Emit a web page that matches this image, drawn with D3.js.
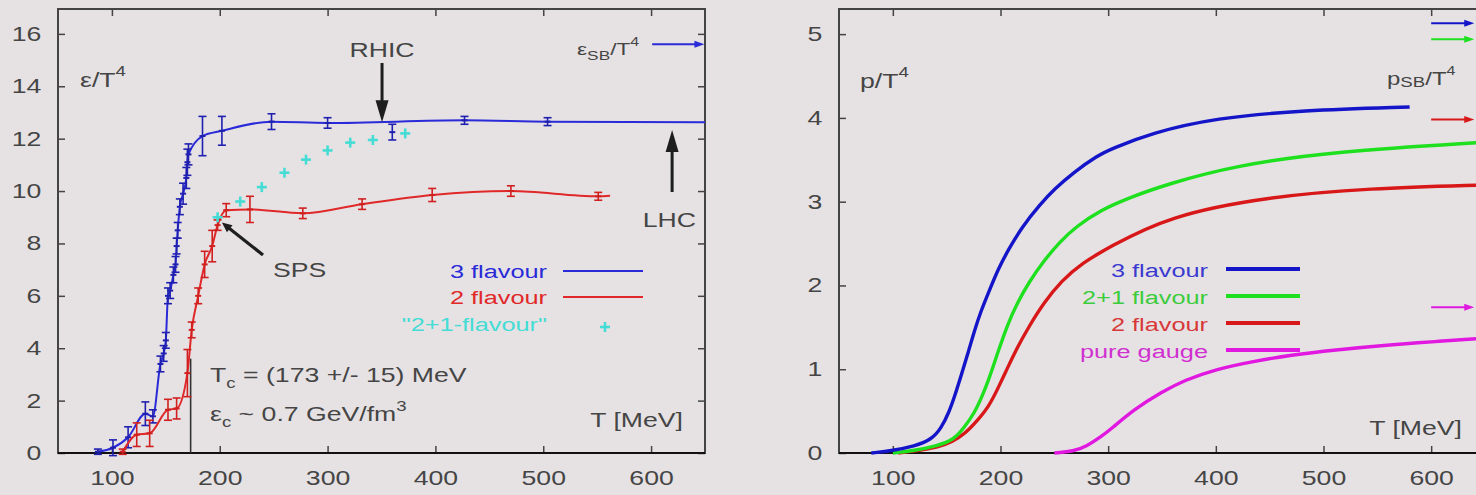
<!DOCTYPE html>
<html>
<head>
<meta charset="utf-8">
<script src="https://cdn.jsdelivr.net/npm/d3@7"></script>
<style>
  body { margin: 0; background: #e6e2e4; }
  svg { display: block; }
  text { font-family: "Liberation Sans", Arial, sans-serif; fill: #454545; }
</style>
</head>
<body>
<script>
// ---------------- data ----------------
// left panel: energy density eps/T^4 vs T [MeV]
var blueT   = [87, 101, 115, 131, 138, 145, 148, 150, 152, 154, 157, 159, 160, 161, 163, 166, 169, 170, 171, 184, 202, 248, 300, 427, 504];
var blueV   = [0.05, 0.2, 0.6, 1.5, 1.4, 3.4, 3.8, 4.3, 6.0, 6.2, 6.8, 7.2, 7.9, 8.5, 9.4, 9.9, 10.5, 11.1, 11.4, 12.1, 12.3, 12.65, 12.6, 12.7, 12.65];
var blueErr = [0.1, 0.3, 0.4, 0.45, 0.25, 0.3, 0.3, 0.3, 0.3, 0.3, 0.3, 0.3, 0.3, 0.3, 0.3, 0.4, 0.4, 0.5, 0.4, 0.75, 0.55, 0.3, 0.2, 0.15, 0.15];
var blueEnd = [650, 12.63];
var blueExtra = [360, 12.25, 0.3];

var redT   = [110, 123, 135, 152, 160, 170, 174, 180, 186, 193, 198, 206, 228, 277, 332, 397, 470, 551];
var redV   = [0.05, 0.7, 0.75, 1.65, 1.7, 3.05, 4.7, 6.0, 7.2, 7.9, 8.7, 9.27, 9.3, 9.15, 9.5, 9.85, 10.0, 9.8];
var redErr = [0.1, 0.45, 0.5, 0.4, 0.4, 0.9, 0.3, 0.3, 0.5, 0.6, 0.2, 0.25, 0.5, 0.2, 0.2, 0.25, 0.2, 0.15];
var redEnd = [562, 9.82];

var cyanT = [198, 219, 239, 260, 280, 300, 321, 342, 372];
var cyanV = [9.0, 9.6, 10.15, 10.7, 11.2, 11.55, 11.85, 11.95, 12.2];

var epsSB = 15.6;
var Tc = 173, TcTop = 3.6;

var xTicks = [100, 200, 300, 400, 500, 600];
var yTicksL = [0, 2, 4, 6, 8, 10, 12, 14, 16];
var yTicksR = [0, 1, 2, 3, 4, 5];

// right panel: pressure p/T^4 vs T [MeV]
var p3T = [80, 100, 120, 136, 145, 152, 158, 164, 170, 176, 182, 189, 198, 207, 220, 237, 250, 268, 290, 303, 340, 400, 480, 580];
var p3V = [0, 0.03, 0.08, 0.16, 0.3, 0.48, 0.7, 0.95, 1.2, 1.47, 1.7, 1.92, 2.2, 2.42, 2.7, 2.97, 3.15, 3.35, 3.55, 3.63, 3.82, 4.0, 4.09, 4.13];
var p21T = [100, 120, 140, 157, 166, 176, 183, 189, 198, 207, 216, 226, 240, 255, 270, 293, 320, 355, 417, 510, 650];
var p21V = [0, 0.03, 0.08, 0.16, 0.3, 0.48, 0.68, 0.87, 1.22, 1.55, 1.8, 2.03, 2.29, 2.52, 2.7, 2.9, 3.05, 3.21, 3.43, 3.6, 3.71];
var p2T = [105, 125, 142, 155, 167, 178, 189, 198, 207, 216, 226, 240, 257, 275, 300, 356, 449, 542, 650];
var p2V = [0, 0.03, 0.07, 0.13, 0.23, 0.38, 0.55, 0.78, 1.03, 1.27, 1.5, 1.79, 2.06, 2.26, 2.45, 2.83, 3.06, 3.16, 3.2];
var pgT = [250, 268, 280, 294, 303, 324, 350, 371, 400, 433, 470, 510, 560, 603, 650];
var pgV = [0, 0.02, 0.08, 0.2, 0.29, 0.52, 0.73, 0.87, 1.0, 1.09, 1.17, 1.23, 1.29, 1.33, 1.37];
var pSB = [5.13, 4.94, 3.98, 1.74];   // 3 flavour, 2+1, 2 flavour, pure gauge

var namesL = ["3 flavour", "2 flavour", "\"2+1-flavour\""];
var namesR = ["3 flavour", "2+1 flavour", "2 flavour", "pure gauge"];

// ---------------- setup ----------------
var W = 1476, H = 495;
var sx = 1.333;   // the source frame is stretched sideways, text too
var colL = ["#2a2ad8", "#e02828", "#44dcd4"];
var colR = ["#1414c8", "#1ee01e", "#d81818", "#e018e0"];
var txtR = ["#3a3ad0", "#3ccc3c", "#d83838", "#d030d0"];

var svg = d3.select("body").append("svg").attr("width", W).attr("height", H);
svg.append("rect").attr("width", W).attr("height", H).attr("fill", "#e6e2e4");

var xL = d3.scaleLinear().domain([50, 650]).range([58, 705]);
var yL = d3.scaleLinear().domain([0, 16.95]).range([453, 9]);
var xR = d3.scaleLinear().domain([50, 650]).range([839, 1485]);
var yR = d3.scaleLinear().domain([0, 5.3]).range([453, 9]);

function put(g, x, y, anchor, size, color) {
  return g.append("text")
    .attr("transform", "translate(" + x + "," + y + ") scale(" + sx + ",1)")
    .attr("text-anchor", anchor)
    .attr("font-size", size)
    .style("fill", color || "#454545");
}

function arrow(g, x1, y1, x2, y2, color, w, hl, hw) {
  var dx = x2 - x1, dy = y2 - y1, len = Math.sqrt(dx * dx + dy * dy);
  var ux = dx / len, uy = dy / len;
  var bx = x2 - ux * hl, by = y2 - uy * hl;
  g.append("line").attr("x1", x1).attr("y1", y1).attr("x2", bx + ux * 2).attr("y2", by + uy * 2)
    .attr("stroke", color).attr("stroke-width", w);
  g.append("path")
    .attr("d", "M" + x2 + "," + y2 + "L" + (bx - uy * hw / 2) + "," + (by + ux * hw / 2) +
               "L" + (bx + uy * hw / 2) + "," + (by - ux * hw / 2) + "Z")
    .attr("fill", color);
}

function frame(g, x, y, yTicks) {
  var x0 = x.range()[0], x1 = x.range()[1], y0 = y.range()[0], y1 = y.range()[1];
  var bot = g.append("g").attr("transform", "translate(0," + y0 + ")")
    .call(d3.axisBottom(x).tickValues(xTicks).tickSizeInner(-7).tickSizeOuter(0).tickPadding(18));
  var top = g.append("g").attr("transform", "translate(0," + y1 + ")")
    .call(d3.axisTop(x).tickValues(xTicks).tickSizeInner(-7).tickSizeOuter(0).tickFormat(""));
  var lef = g.append("g").attr("transform", "translate(" + x0 + ",0)")
    .call(d3.axisLeft(y).tickValues(yTicks).tickSizeInner(-7).tickSizeOuter(0).tickFormat(d3.format("d")));
  var rig = g.append("g").attr("transform", "translate(" + x1 + ",0)")
    .call(d3.axisRight(y).tickValues(yTicks).tickSizeInner(-7).tickSizeOuter(0).tickFormat(""));
  [bot, top, lef, rig].forEach(function(a) {
    a.select(".domain").remove();
    a.attr("font-size", 20);
    a.selectAll("line").attr("stroke", "#444").attr("stroke-width", 1.5);
  });
  bot.selectAll("text").attr("transform", "scale(" + sx + ",1)");
  lef.selectAll("text").attr("x", -12.5).attr("transform", "scale(" + sx + ",1)");
  g.append("rect").attr("x", x0).attr("y", y1).attr("width", x1 - x0).attr("height", y0 - y1)
    .attr("fill", "none").attr("stroke", "#444").attr("stroke-width", 2);
  g.append("line").attr("x1", x0).attr("x2", x1).attr("y1", y0).attr("y2", y0)
    .attr("stroke", "#111").attr("stroke-width", 2.2);
}

// ---------------- left panel ----------------
var gl = svg.append("g");
frame(gl, xL, yL, yTicksL);

// Tc marker line
gl.append("line").attr("x1", xL(Tc)).attr("x2", xL(Tc)).attr("y1", yL(0)).attr("y2", yL(TcTop))
  .attr("stroke", "#333").attr("stroke-width", 1.6);

var lineL = d3.line().x(function(d) { return xL(d[0]); }).y(function(d) { return yL(d[1]); })
  .curve(d3.curveMonotoneX);

function series(T, V, E, end, color, barColor) {
  var pts = T.map(function(t, i) { return [t, V[i]]; });
  if (end) pts.push(end);
  gl.append("path").datum(pts).attr("d", lineL).attr("fill", "none")
    .attr("stroke", color).attr("stroke-width", 2);
  T.forEach(function(t, i) {
    var x = xL(t), ya = yL(V[i] - E[i]), yb = yL(V[i] + E[i]);
    gl.append("line").attr("x1", x).attr("x2", x).attr("y1", ya).attr("y2", yb)
      .attr("stroke", barColor).attr("stroke-width", 1.6);
    [ya, yb].forEach(function(yy) {
      gl.append("line").attr("x1", x - 4).attr("x2", x + 4).attr("y1", yy).attr("y2", yy)
        .attr("stroke", barColor).attr("stroke-width", 1.6);
    });
    gl.append("line").attr("x1", x - 3).attr("x2", x + 3).attr("y1", yL(V[i])).attr("y2", yL(V[i]))
      .attr("stroke", barColor).attr("stroke-width", 2);
  });
}
series(blueT, blueV, blueErr, blueEnd, colL[0], "#2020b0");
series(redT, redV, redErr, redEnd, colL[1], "#d02020");
series([blueExtra[0]], [blueExtra[1]], [blueExtra[2]], null, "none", "#2020b0");

// "2+1-flavour" crosses
function cross(g, x, y, color) {
  g.append("line").attr("x1", x - 5).attr("x2", x + 5).attr("y1", y).attr("y2", y)
    .attr("stroke", color).attr("stroke-width", 2.6);
  g.append("line").attr("x1", x).attr("x2", x).attr("y1", y - 5).attr("y2", y + 5)
    .attr("stroke", color).attr("stroke-width", 2.6);
}
cyanT.forEach(function(t, i) { cross(gl, xL(t), yL(cyanV[i]), colL[2]); });

// SB limit arrow
arrow(gl, xL(601), yL(epsSB), xL(649.5), yL(epsSB), colL[0], 2, 10, 7);
var tSB = put(gl, 577, 55, "start", 17);
tSB.append("tspan").text("ε");
tSB.append("tspan").attr("font-size", 13).attr("dy", 5).text("SB");
tSB.append("tspan").attr("dy", -5).text("/T");
tSB.append("tspan").attr("font-size", 12).attr("dy", -9).text("4");

// y label
var tE = put(gl, 80, 87, "start", 20);
tE.append("tspan").text("ε/T");
tE.append("tspan").attr("font-size", 14).attr("dy", -11).text("4");

// accelerator arrows
arrow(gl, xL(350.5), 63, xL(350.5), yL(12.63), "#1e1e1e", 3, 22, 13);
put(gl, xL(350.5), 57, "middle", 20).text("RHIC");
arrow(gl, xL(619.5), 192, xL(619.5), 130, "#1e1e1e", 3, 22, 13);
put(gl, xL(617), 227, "middle", 20).text("LHC");
arrow(gl, 263, 255, xL(202), yL(8.8), "#1e1e1e", 3.2, 10, 9);
put(gl, 273, 277, "start", 20).text("SPS");

// legend
var legY = [278, 304, 331];
namesL.forEach(function(n, i) {
  put(gl, 547, legY[i], "end", 19, colL[i]).text(n);
  if (i < 2) {
    gl.append("line").attr("x1", 563).attr("x2", 643).attr("y1", legY[i] - 7).attr("y2", legY[i] - 7)
      .attr("stroke", colL[i]).attr("stroke-width", 2);
  } else {
    cross(gl, 605, legY[i] - 4, colL[2]);
  }
});

// Tc / eps_c notes
var t1 = put(gl, 210, 382, "start", 20);
t1.append("tspan").text("T");
t1.append("tspan").attr("font-size", 14).attr("dy", 6).text("c");
t1.append("tspan").attr("dy", -6).text(" = (173 +/- 15) MeV");
var t2 = put(gl, 210, 421, "start", 20);
t2.append("tspan").text("ε");
t2.append("tspan").attr("font-size", 14).attr("dy", 6).text("c");
t2.append("tspan").attr("dy", -6).text(" ~ 0.7 GeV/fm");
t2.append("tspan").attr("font-size", 14).attr("dy", -10).text("3");
put(gl, 683, 427, "end", 20).text("T [MeV]");

// ---------------- right panel ----------------
var gr = svg.append("g");
frame(gr, xR, yR, yTicksR);

var lineR = d3.line().x(function(d) { return xR(d[0]); }).y(function(d) { return yR(d[1]); })
  .curve(d3.curveBasis);
var curvesR = [[p3T, p3V], [p21T, p21V], [p2T, p2V], [pgT, pgV]];
// draw 2 flavour / 2+1 under, 3 flavour on top as in the picture
[3, 2, 1, 0].forEach(function(i) {
  var c = curvesR[i];
  var pts = c[0].map(function(t, k) { return [t, c[1][k]]; });
  gr.append("path").datum(pts).attr("d", lineR).attr("fill", "none")
    .attr("stroke", colR[i]).attr("stroke-width", 3.4);
});

pSB.forEach(function(v, i) {
  arrow(gr, xR(600), yR(v), xR(640), yR(v), colR[i], 2, 10, 7);
});

var tp = put(gr, 860, 88, "start", 20);
tp.append("tspan").text("p/T");
tp.append("tspan").attr("font-size", 14).attr("dy", -11).text("4");
var tps = put(gr, 1387, 85, "start", 18);
tps.append("tspan").text("p");
tps.append("tspan").attr("font-size", 14).attr("dy", 2).text("SB");
tps.append("tspan").attr("dy", -2).text("/T");
tps.append("tspan").attr("font-size", 12).attr("dy", -10).text("4");

var legYR = [277, 304, 331, 358];
namesR.forEach(function(n, i) {
  put(gr, 1208, legYR[i], "end", 19, txtR[i]).text(n);
  gr.append("line").attr("x1", 1226).attr("x2", 1300).attr("y1", legYR[i] - 8).attr("y2", legYR[i] - 8)
    .attr("stroke", colR[i]).attr("stroke-width", 4);
});
put(gr, 1462, 435, "end", 20).text("T [MeV]");
</script>
</body>
</html>
